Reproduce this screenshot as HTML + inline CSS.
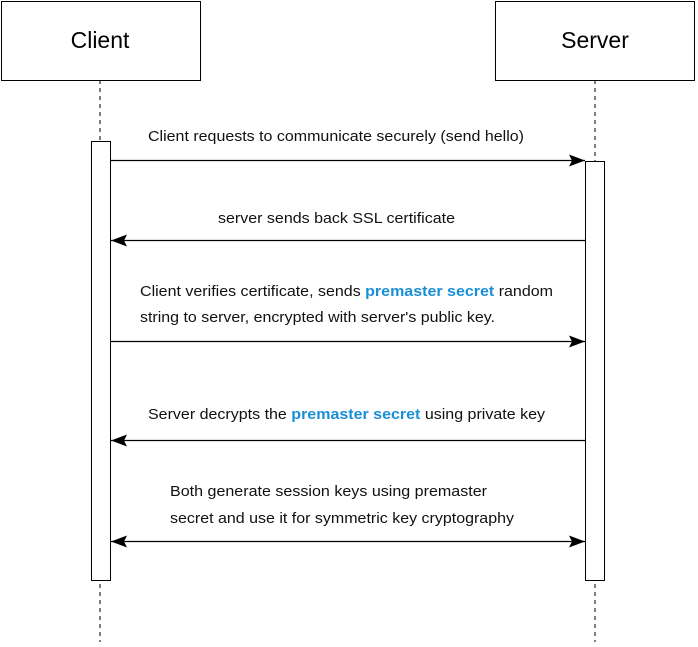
<!DOCTYPE html>
<html><head><style>
body{margin:0;background:#fff;width:698px;height:642px;overflow:hidden;font-family:"Liberation Sans",Arial,sans-serif}
</style></head><body>
<svg width="698" height="642" xmlns="http://www.w3.org/2000/svg" font-family="Liberation Sans, Arial, sans-serif">
<defs>
<marker id="b" viewBox="0 0 16 12" refX="16" refY="6" markerWidth="16" markerHeight="12" markerUnits="userSpaceOnUse" orient="auto-start-reverse"><path d="M0,0 L16,6 L0,12 L3,6 z" fill="#000"/></marker></defs>
<line x1="100" y1="80" x2="100" y2="642" stroke="#000" stroke-dasharray="4 4"/>
<line x1="595" y1="80" x2="595" y2="642" stroke="#000" stroke-dasharray="4 4"/>
<rect x="1.5" y="1.5" width="199" height="79" fill="#fff" stroke="#000"/>
<rect x="495.5" y="1.5" width="199" height="79" fill="#fff" stroke="#000"/>
<text x="100" y="48" font-size="23" text-anchor="middle">Client</text>
<text x="595" y="48" font-size="23" text-anchor="middle">Server</text>
<rect x="91.5" y="141.5" width="19" height="439" fill="#fff" stroke="#000"/>
<rect x="585.5" y="161.5" width="19" height="419" fill="#fff" stroke="#000"/>
<g stroke="#000" stroke-width="1.2" fill="none">
<line x1="111" y1="160.5" x2="585" y2="160.5" marker-end="url(#b)"/>
<line x1="585" y1="240.5" x2="111" y2="240.5" marker-end="url(#b)"/>
<line x1="111" y1="341.5" x2="585" y2="341.5" marker-end="url(#b)"/>
<line x1="585" y1="440.5" x2="111" y2="440.5" marker-end="url(#b)"/>
<line x1="111" y1="541.5" x2="585" y2="541.5" marker-end="url(#b)" marker-start="url(#b)"/>
</g>
<g font-size="15" fill="#111">
<text x="148" y="141" textLength="376" lengthAdjust="spacingAndGlyphs">Client requests to communicate securely (send hello)</text>
<text x="218" y="223" textLength="237" lengthAdjust="spacingAndGlyphs">server sends back SSL certificate</text>
<text x="140" y="296" textLength="413" lengthAdjust="spacingAndGlyphs">Client verifies certificate, sends <tspan fill="#1a8fd6" font-weight="bold">premaster secret</tspan> random</text>
<text x="140" y="322" textLength="355" lengthAdjust="spacingAndGlyphs">string to server, encrypted with server's public key.</text>
<text x="148" y="419" textLength="397" lengthAdjust="spacingAndGlyphs">Server decrypts the <tspan fill="#1a8fd6" font-weight="bold">premaster secret</tspan> using private key</text>
<text x="170" y="496" textLength="317" lengthAdjust="spacingAndGlyphs">Both generate session keys using premaster</text>
<text x="170" y="523" textLength="344" lengthAdjust="spacingAndGlyphs">secret and use it for symmetric key cryptography</text>
</g>
</svg>
</body></html>
